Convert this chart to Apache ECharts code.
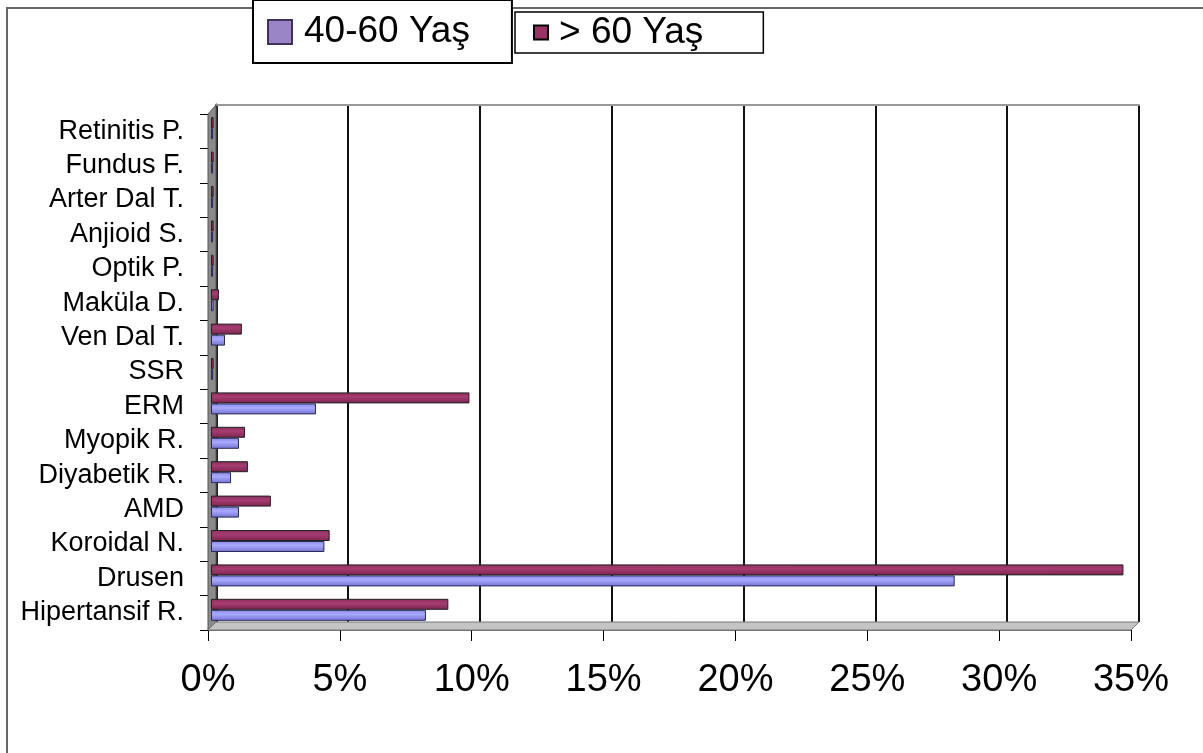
<!DOCTYPE html>
<html>
<head>
<meta charset="utf-8">
<script src="https://cdn.jsdelivr.net/npm/echarts@6/dist/echarts.min.js"></script>
<style>
  html, body { margin: 0; padding: 0; background: #fff; }
  #chart { width: 1203px; height: 753px; }
</style>
</head>
<body>
<div id="chart"></div>
<script>
  // bottom to top, like the picture
  var categories = ['Hipertansif R.', 'Drusen', 'Koroidal N.', 'AMD', 'Diyabetik R.', 'Myopik R.', 'ERM', 'SSR',
    'Ven Dal T.', 'Maküla D.', 'Optik P.', 'Anjioid S.', 'Arter Dal T.', 'Fundus F.', 'Retinitis P.']
  var seriesNames = ['40-60 Yaş', '> 60 Yaş']
  var age4060 = [8.15, 28.2, 4.3, 1.06, 0.76, 1.06, 3.98, 0.08, 0.53, 0.1, 0.08, 0.08, 0.08, 0.08, 0.08]
  var ageOver60 = [9.0, 34.6, 4.5, 2.27, 1.4, 1.29, 9.8, 0.1, 1.17, 0.3, 0.1, 0.1, 0.1, 0.1, 0.1]
  var xTicks = [0, 5, 10, 15, 20, 25, 30, 35]

  var font = 'Liberation Sans, Arial, sans-serif'
  var chart = echarts.init(document.getElementById('chart'))

  var option = {
    animation: false,
    textStyle: { fontFamily: font },
    legend: [
      {
        data: [{ name: seriesNames[0], icon: 'rect', itemStyle: { color: '#9a86c6', borderColor: '#3f3260', borderWidth: 2 } }],
        left: 253, top: 0, z: 6,
        padding: [12, 42, 11, 14],
        itemWidth: 24, itemHeight: 24,
        backgroundColor: '#fff', borderColor: '#000', borderWidth: 2,
        selectedMode: false,
        textStyle: { fontSize: 37, color: '#000', lineHeight: 40, padding: [0, 0, 0, 7] }
      },
      {
        data: [{ name: seriesNames[1], icon: 'rect', itemStyle: { color: '#993366', borderColor: '#000', borderWidth: 2 } }],
        left: 515, top: 12, z: 5,
        padding: [2, 60, 2, 18],
        itemWidth: 14, itemHeight: 14,
        backgroundColor: '#fff', borderColor: '#000', borderWidth: 1.5,
        selectedMode: false,
        textStyle: { fontSize: 37, color: '#000', lineHeight: 37, padding: [0, 0, 0, 6] }
      }
    ],
    grid: [
      // back wall
      { left: 216, right: 64, top: 105, bottom: 131 },
      // front axes
      { left: 208, right: 72, top: 114, bottom: 123 },
      // bars
      { left: 211, right: 69, top: 111, bottom: 126 }
    ],
    xAxis: [
      {
        gridIndex: 0, type: 'value', min: 0, max: 35, interval: 5, position: 'top',
        axisLine: { show: true, lineStyle: { color: '#999', width: 2 } },
        axisTick: { show: false }, axisLabel: { show: false },
        splitLine: { show: true, lineStyle: { color: '#111', width: 2 } }
      },
      {
        gridIndex: 1, type: 'value', min: 0, max: 35, interval: 5,
        axisLine: { show: true, lineStyle: { color: '#777', width: 2 } },
        axisTick: { show: true, length: 11, lineStyle: { color: '#000', width: 1 } },
        axisLabel: {
          fontSize: 38, color: '#000', margin: 32,
          formatter: function (v) { return xTicks.indexOf(v) > -1 ? v + '%' : '' }
        },
        splitLine: { show: false }
      },
      {
        gridIndex: 2, type: 'value', min: 0, max: 35, show: false
      }
    ],
    yAxis: [
      {
        gridIndex: 0, type: 'category', data: categories, position: 'right',
        axisLine: { show: true, lineStyle: { color: '#222', width: 3 } },
        axisTick: { show: false }, axisLabel: { show: false }
      },
      {
        gridIndex: 1, type: 'category', data: categories,
        axisLine: { show: true, lineStyle: { color: '#333', width: 1 } },
        axisTick: { show: true, length: 8, inside: false, lineStyle: { color: '#000' } },
        axisLabel: { fontSize: 27, color: '#000', margin: 24, interval: 0, hideOverlap: false }
      },
      {
        gridIndex: 2, type: 'category', data: categories, show: false
      }
    ],
    graphic: [
      {
        type: 'polygon', z: 1,
        shape: { points: [[208, 114], [216, 105], [216, 622], [208, 630]] },
        style: { fill: '#8a8a8a', stroke: '#555', lineWidth: 1 }
      },
      {
        type: 'polygon', z: 1,
        shape: { points: [[208, 630], [216, 622], [1139, 622], [1131, 630]] },
        style: { fill: '#c4c4c4', stroke: '#777', lineWidth: 1 }
      },
      {
        type: 'polyline', z: 1,
        shape: { points: [[7, 753], [7, 8], [1203, 8]] },
        style: { stroke: '#666', lineWidth: 2, fill: null }
      }
    ],
    series: [
      // > 60 first so it sits above the 40-60 bar in each row
      {
        name: seriesNames[1], type: 'bar', xAxisIndex: 2, yAxisIndex: 2, z: 3,
        barWidth: 11, barGap: '0%',
        itemStyle: {
          color: new echarts.graphic.LinearGradient(0, 0, 0, 1, [
            { offset: 0, color: '#8a2c5c' }, { offset: 0.4, color: '#a63d70' }, { offset: 1, color: '#7a2450' }
          ]),
          borderColor: '#222', borderWidth: 1
        },
        data: ageOver60
      },
      {
        name: seriesNames[0], type: 'bar', xAxisIndex: 2, yAxisIndex: 2, z: 3,
        barWidth: 11, barGap: '0%',
        itemStyle: {
          color: new echarts.graphic.LinearGradient(0, 0, 0, 1, [
            { offset: 0, color: '#8a8ae8' }, { offset: 0.4, color: '#a9a9ff' }, { offset: 1, color: '#7272d0' }
          ]),
          borderColor: '#2a2a55', borderWidth: 1
        },
        data: age4060
      }
    ]
  }

  chart.setOption(option)
</script>
</body>
</html>
